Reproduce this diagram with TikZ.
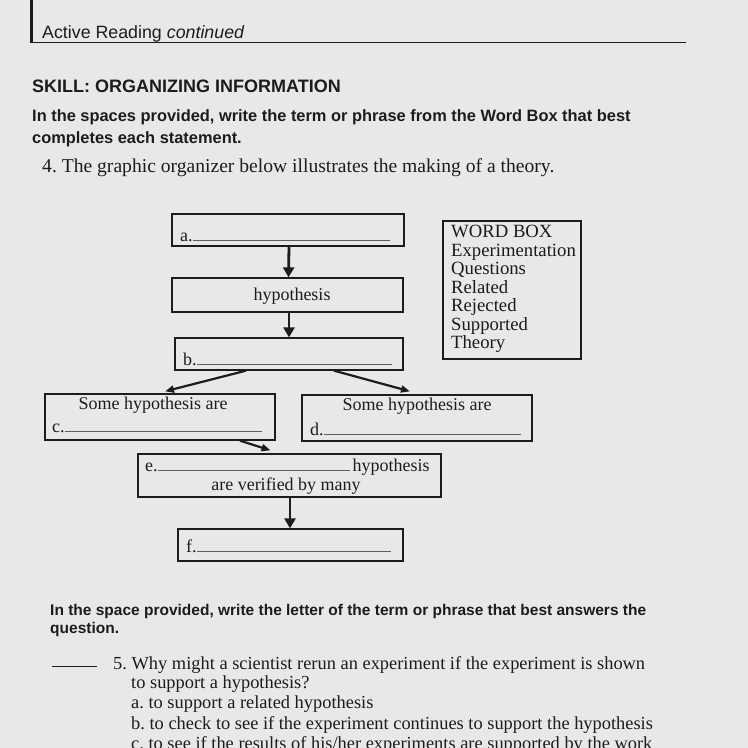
\documentclass[tikz,border=0pt]{standalone}
\usepackage{fontspec}
\setmainfont{Liberation Serif}
\setsansfont{Liberation Sans}
\usetikzlibrary{arrows.meta, positioning}

\definecolor{paper}{RGB}{232,233,230}
\definecolor{ink}{RGB}{28,28,28}
\definecolor{blankgray}{RGB}{95,95,95}

\newcommand{\blank}[1]{\textcolor{blankgray}{\rule{#1pt}{0.7pt}}}
\frenchspacing

\begin{document}
\begin{tikzpicture}[x=1pt,y=-1pt,
  orgbox/.style={draw=ink, line width=1.3pt, inner sep=0pt},
  flow/.style={-{Triangle[length=10pt,width=11pt]}, line width=2.8pt, ink},
  slant/.style={-{Triangle[length=9pt,width=7pt]}, line width=2.2pt, ink},
  serif/.style={font=\fontsize{18}{18.5}\selectfont, text=ink, inner sep=0pt},
  bigserif/.style={font=\fontsize{19.6}{20}\selectfont, text=ink, inner sep=0pt},
  head/.style={font=\sffamily\fontsize{17.8}{20}\selectfont, text=ink, inner sep=0pt},
  bold/.style={font=\sffamily\bfseries\fontsize{16.4}{22}\selectfont, text=ink, inner sep=0pt}]

% Page
\fill[paper] (0,0) rectangle (748,748);
\useasboundingbox (0,0) rectangle (748,748);

% Running head
\draw[ink, line width=3pt] (31,0) -- (31,43);
\draw[ink, line width=1.3pt] (30,42.5) -- (686,42.5);
\node[head, anchor=base west] (runhead) at (42,38) {Active Reading \textit{continued}};

% Skill and instructions
\node[bold, anchor=base west, font=\sffamily\bfseries\fontsize{18}{20}\selectfont] (skill) at (32,92) {SKILL: ORGANIZING INFORMATION};
\node[bold, anchor=base west] (instr1) at (32,121) {In the spaces provided, write the term or phrase from the Word Box that best};
\node[bold, anchor=base west] (instr2) at (32,143) {completes each statement.};
\node[bigserif, anchor=base west] (item4) at (42,172) {4. The graphic organizer below illustrates the making of a theory.};

% Organizer boxes
\node[orgbox, minimum width=232pt, minimum height=32pt] (boxa) at (288,230) {};
\node[orgbox, minimum width=231pt, minimum height=34pt] (boxhyp) at (287.5,295) {};
\node[orgbox, minimum width=228pt, minimum height=32pt] (boxb) at (289,354) {};
\node[orgbox, minimum width=230pt, minimum height=46pt] (boxc) at (160,417) {};
\node[orgbox, minimum width=230pt, minimum height=46pt] (boxd) at (417,418) {};
\node[orgbox, minimum width=303pt, minimum height=43pt] (boxe) at (289.5,475.5) {};
\node[orgbox, minimum width=225pt, minimum height=32pt] (boxf) at (290.5,545) {};

% Box texts
\node[serif, anchor=base west] (texta) at (180,241) {a.\blank{197}};
\node[serif] (texthyp) at (292,296) {hypothesis};
\node[serif, anchor=base west] (textb) at (183,365) {b.\blank{195}};
\node[serif] (textc1) at (153,405) {Some hypothesis are};
\node[serif, anchor=base west] (textc2) at (52,432) {c.\blank{197}};
\node[serif] (textd1) at (417,406) {Some hypothesis are};
\node[serif, anchor=base west] (textd2) at (310,435) {d.\blank{197}};
\node[serif, anchor=base west] (texte1) at (145,471) {e.\blank{192}\,hypothesis};
\node[serif] (texte2) at (286,486) {are verified by many};
\node[serif, anchor=base west] (textf) at (186,552) {f.\blank{194}};

% Word box
\node[orgbox, minimum width=138pt, minimum height=138pt] (wordbox) at (512,290) {};
\node[serif, anchor=north west, align=left, font=\fontsize{18.7}{18.5}\selectfont] (words) at (451,225)
  {WORD BOX\\Experimentation\\Questions\\Related\\Rejected\\Supported\\Theory};

% Arrows
\draw[flow] (boxa.south) ++(1,0) -- ([xshift=1pt]boxhyp.north);
\draw[flow] (boxhyp.south) ++(1.5,0) -- ([xshift=0pt]boxb.north);
\draw[slant] ([xshift=-43pt]boxb.south) -- ([xshift=5pt,yshift=2pt]boxc.north);
\draw[slant] ([xshift=45pt]boxb.south) -- ([xshift=-7pt,yshift=3pt]boxd.north);
\draw[slant] ([xshift=80pt]boxc.south) -- ([xshift=-19pt,yshift=3pt]boxe.north);
\draw[flow] ([xshift=0.5pt]boxe.south) -- ([xshift=-0.5pt]boxf.north);

% Question 5
\node[bold, anchor=base west, font=\sffamily\bfseries\fontsize{15.5}{22}\selectfont] (instr3) at (50,615) {In the space provided, write the letter of the term or phrase that best answers the};
\node[bold, anchor=base west, font=\sffamily\bfseries\fontsize{15.5}{22}\selectfont] (instr4) at (50,633) {question.};
\draw[ink, line width=1pt] (52,666) -- (97,666);
\node[serif, anchor=base west, font=\fontsize{18.4}{18.5}\selectfont] (q5) at (113,669) {5. Why might a scientist rerun an experiment if the experiment is shown};
\node[serif, anchor=base west, font=\fontsize{18.4}{18.5}\selectfont] (q5b) at (131,688) {to support a hypothesis?};
\node[serif, anchor=base west, font=\fontsize{18.4}{18.5}\selectfont] (opta) at (131,708) {a. to support a related hypothesis};
\node[serif, anchor=base west, font=\fontsize{18.4}{18.5}\selectfont] (optb) at (131,729) {b. to check to see if the experiment continues to support the hypothesis};
\node[serif, anchor=base west, font=\fontsize{18.4}{18.5}\selectfont] (optc) at (131,749) {c. to see if the results of his/her experiments are supported by the work};

\end{tikzpicture}
\end{document}
